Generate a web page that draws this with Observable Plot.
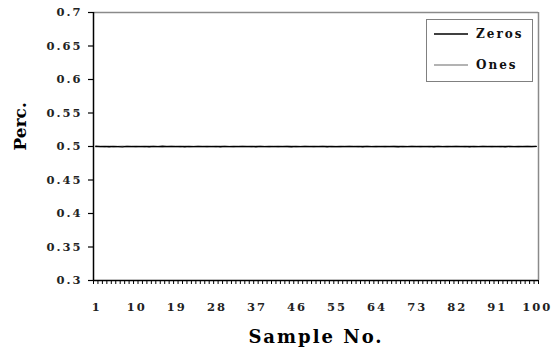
<!DOCTYPE html>
<html>
<head>
<meta charset="utf-8">
<script src="https://cdn.jsdelivr.net/npm/d3@7"></script>
<script src="https://cdn.jsdelivr.net/npm/@observablehq/plot@0.6"></script>
<style>
  html, body { margin: 0; padding: 0; background: #fff; }
</style>
</head>
<body>
<div id="chart"></div>
<script>
const sampleLabels = [1, 10, 19, 28, 37, 46, 55, 64, 73, 82, 91, 100];
const yTicks = [0.3, 0.35, 0.4, 0.45, 0.5, 0.55, 0.6, 0.65, 0.7];
const seriesNames = ["Zeros", "Ones"];
const zeros = [
  0.5004, 0.4998, 0.5002, 0.4996, 0.5003, 0.4999, 0.4995, 0.5001, 0.4997, 0.5003,
  0.4998, 0.5002, 0.4996, 0.5001, 0.4999, 0.5004, 0.4997, 0.5000, 0.4998, 0.5003,
  0.4996, 0.5002, 0.4999, 0.5001, 0.4997, 0.5002, 0.4998, 0.5003, 0.4996, 0.5001,
  0.4999, 0.5002, 0.4997, 0.5000, 0.4998, 0.5003, 0.4996, 0.5001, 0.4999, 0.5002,
  0.4997, 0.5003, 0.4998, 0.5000, 0.4996, 0.5002, 0.4999, 0.5001, 0.4997, 0.5003,
  0.4998, 0.5001, 0.4996, 0.5002, 0.4999, 0.5003, 0.4997, 0.5000, 0.4998, 0.5002,
  0.4996, 0.5001, 0.4999, 0.5003, 0.4997, 0.5002, 0.4998, 0.5000, 0.4996, 0.5002,
  0.4999, 0.5001, 0.4997, 0.5003, 0.4998, 0.5002, 0.4996, 0.5001, 0.4999, 0.5003,
  0.4997, 0.5000, 0.4998, 0.5002, 0.4996, 0.5003, 0.4999, 0.5001, 0.4997, 0.5002,
  0.4998, 0.5003, 0.4996, 0.5001, 0.4999, 0.5002, 0.4997, 0.5000, 0.4998, 0.5001
];
const ones = [
  0.4996, 0.5002, 0.4998, 0.5004, 0.4997, 0.5001, 0.5005, 0.4999, 0.5003, 0.4997,
  0.5002, 0.4998, 0.5004, 0.4999, 0.5001, 0.4996, 0.5003, 0.5000, 0.5002, 0.4997,
  0.5004, 0.4998, 0.5001, 0.4999, 0.5003, 0.4998, 0.5002, 0.4997, 0.5004, 0.4999,
  0.5001, 0.4998, 0.5003, 0.5000, 0.5002, 0.4997, 0.5004, 0.4999, 0.5001, 0.4998,
  0.5003, 0.4997, 0.5002, 0.5000, 0.5004, 0.4998, 0.5001, 0.4999, 0.5003, 0.4997,
  0.5002, 0.4999, 0.5004, 0.4998, 0.5001, 0.4997, 0.5003, 0.5000, 0.5002, 0.4998,
  0.5004, 0.4999, 0.5001, 0.4997, 0.5003, 0.4998, 0.5002, 0.5000, 0.5004, 0.4998,
  0.5001, 0.4999, 0.5003, 0.4997, 0.5002, 0.4998, 0.5004, 0.4999, 0.5001, 0.4997,
  0.5003, 0.5000, 0.5002, 0.4998, 0.5004, 0.4997, 0.5001, 0.4999, 0.5003, 0.4998,
  0.5002, 0.4997, 0.5004, 0.4999, 0.5001, 0.4998, 0.5003, 0.5000, 0.5002, 0.4999
];

const n = zeros.length;
const boundaries = d3.range(0.5, n + 1, 1);
const toRows = (arr) => arr.map((v, i) => ({sample: i + 1, value: v}));

const fmt = d => String(+d.toFixed(2));

const chart = Plot.plot({
  width: 553,
  height: 352,
  marginLeft: 93,
  marginRight: 15,
  marginTop: 12,
  marginBottom: 72,
  x: {domain: [0.5, n + 0.5]},
  y: {domain: [0.3, 0.7]},
  style: {fontFamily: "DejaVu Serif", fontWeight: "bold", fontSize: "11.5px", background: "#fff", color: "#222"},
  marks: [
    Plot.ruleY([0.7], {stroke: "#8a8a8a", strokeWidth: 1.5}),
    Plot.ruleX([n + 0.5], {stroke: "#8a8a8a", strokeWidth: 1.5}),
    Plot.axisY({ticks: yTicks, tickSize: 5, tickPadding: 6, tickFormat: fmt, label: null, stroke: "#000", strokeWidth: 1.2}),
    Plot.axisX({ticks: boundaries, tickSize: 4, tickFormat: () => "", label: null, stroke: "#000"}),
    Plot.axisX({ticks: sampleLabels, tickSize: 0, tickPadding: 22, dx: 1, tickFormat: d => String(d), label: null}),
    Plot.ruleX([0.5], {stroke: "#000", strokeWidth: 1.5}),
    Plot.ruleY([0.3], {stroke: "#000", strokeWidth: 1.5}),
    Plot.lineY(toRows(ones), {x: "sample", y: "value", stroke: "#9a9a9a", strokeWidth: 1.5}),
    Plot.lineY(toRows(zeros), {x: "sample", y: "value", stroke: "#000", strokeWidth: 1.3}),
    Plot.text(["Perc."], {frameAnchor: "left", dx: -73, dy: 4, rotate: -90, fontSize: 17, fontWeight: "bold", fill: "#000"}),
    Plot.text(["Sample No."], {frameAnchor: "bottom", lineAnchor: "middle", dy: 57, fontSize: 18, fontWeight: "bold", fill: "#000"})
  ]
});

document.getElementById("chart").appendChild(chart);

const svg = d3.select(chart);
svg.selectAll("text").filter(function () { return this.textContent === "Sample No."; }).attr("letter-spacing", 2);
svg.selectAll("g[aria-label='y-axis tick label'] text, g[aria-label='x-axis tick label'] text").attr("letter-spacing", 2);

// Legend box (top-right inside plot)
const lg = svg.append("g").attr("font-family", "DejaVu Serif").attr("font-weight", "bold").attr("font-size", 12).attr("text-anchor", "start");
lg.append("rect").attr("x", 426.5).attr("y", 19.5).attr("width", 106).attr("height", 62)
  .attr("fill", "#fff").attr("stroke", "#000").attr("stroke-dasharray", "1,1");
const legendColors = ["#000", "#9a9a9a"];
seriesNames.forEach((name, i) => {
  const y = 34 + i * 31;
  lg.append("line").attr("x1", 434).attr("x2", 468).attr("y1", y).attr("y2", y)
    .attr("stroke", legendColors[i]).attr("stroke-width", 1.3);
  lg.append("text").attr("x", 476).attr("y", y + 4).attr("letter-spacing", 2).attr("fill", "#111").text(name);
});
</script>
</body>
</html>
